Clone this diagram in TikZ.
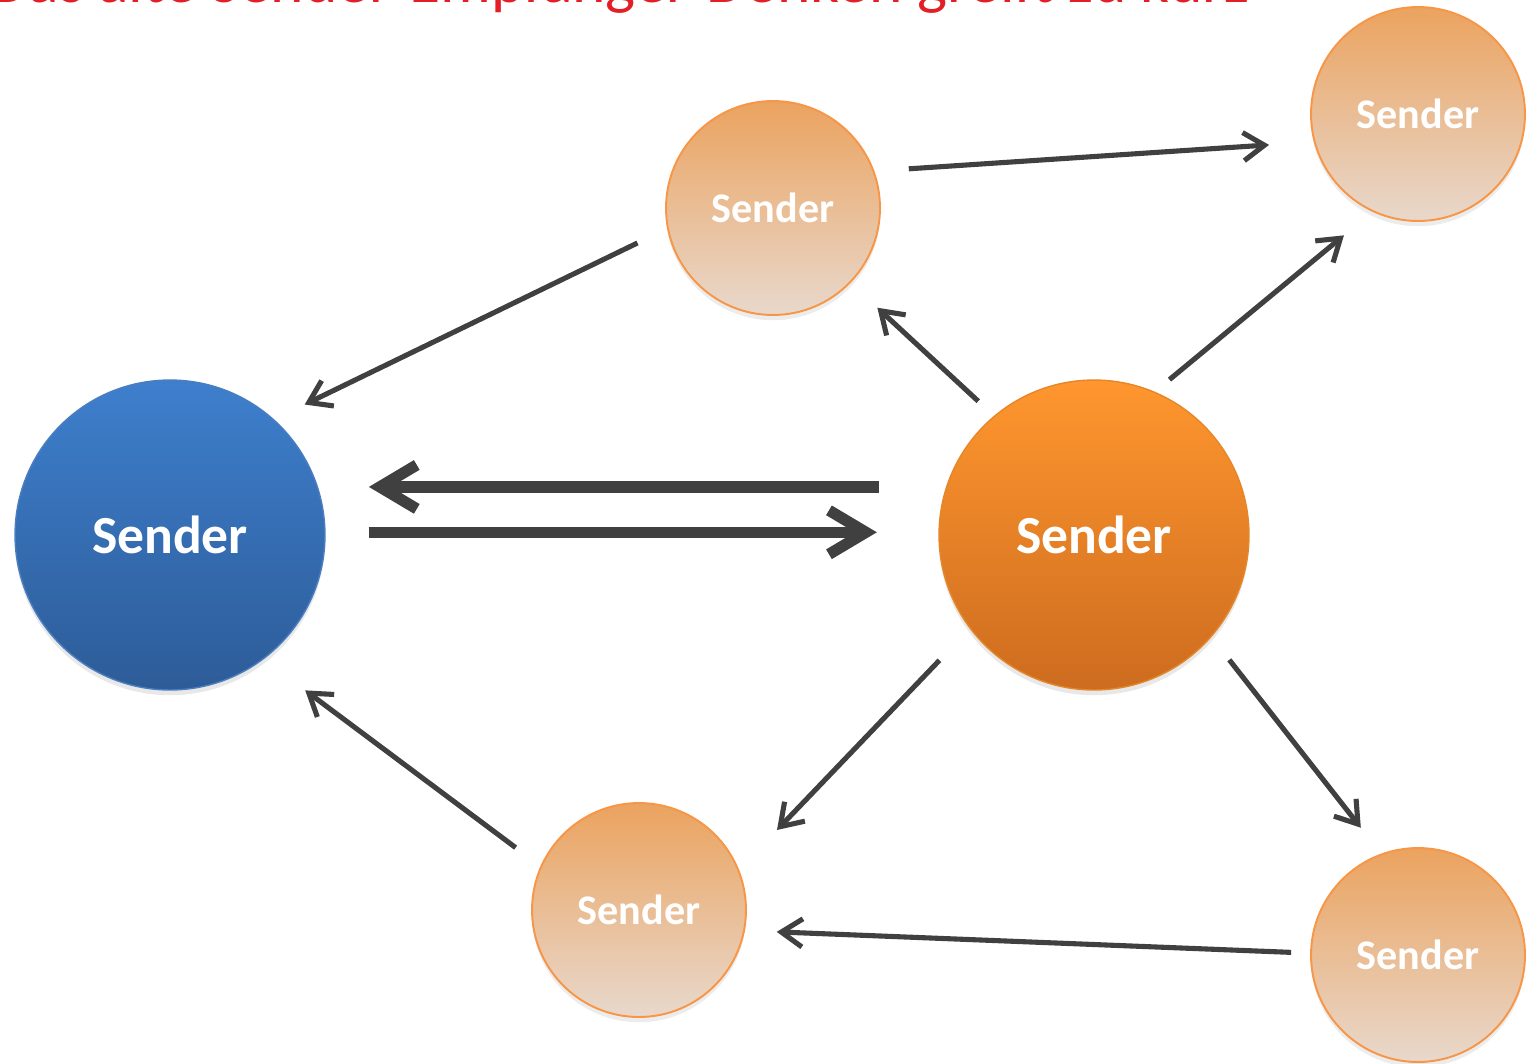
\documentclass[tikz,border=0pt]{standalone}
\usepackage{fontspec}
\setmainfont{Carlito}
\usetikzlibrary{arrows.meta,shadows}

\definecolor{titlered}{HTML}{E41E26}
\definecolor{arrgray}{HTML}{404040}
\definecolor{bluetop}{HTML}{3E7FCD}
\definecolor{bluebot}{HTML}{2D5C98}
\definecolor{blueline}{HTML}{4A7EC0}
\definecolor{orangetop}{HTML}{FF962E}
\definecolor{orangebot}{HTML}{CD6C1F}
\definecolor{paletop}{HTML}{EBA35F}
\definecolor{palebot}{HTML}{E8D8CC}
\definecolor{paleline}{HTML}{F79646}

\begin{document}
\begin{tikzpicture}[x=0.02cm, y=-0.02cm,
  bigsender/.style={circle, inner sep=0pt, minimum size=6.2cm, text=white,
    font=\fontsize{30.5}{36}\selectfont\bfseries,
    drop shadow={opacity=0.18, shadow xshift=0pt, shadow yshift=-3pt}},
  smallsender/.style={circle, inner sep=0pt, minimum size=4.28cm, text=white,
    draw=paleline, line width=1.1pt, top color=paletop, bottom color=palebot,
    font=\fontsize{24}{29}\selectfont\bfseries,
    drop shadow={opacity=0.15, shadow xshift=0pt, shadow yshift=-3pt}},
  msg/.style={draw=arrgray, line width=2.9pt, -{Straight Barb[length=12pt, width=16pt]}},
  bigmsg/.style={draw=arrgray, line width=6.4pt, -{Straight Barb[length=21pt, width=25pt]}}]

  \useasboundingbox (0,0) rectangle (1532,1063);

  \node[anchor=base east, text=titlered, font=\fontsize{36.2}{40}\selectfont] (title) at (1256,2)
    {Das alte Sender-Empfänger-Denken greift zu kurz};

  \node[bigsender, draw=blueline, line width=0.8pt, top color=bluetop, bottom color=bluebot] (blue) at (170,535) {Sender};
  \node[bigsender, draw=orangetop!90!black, line width=0.8pt, top color=orangetop, bottom color=orangebot] (orange) at (1094,535) {Sender};

  \node[smallsender] (top) at (773,208) {Sender};
  \node[smallsender] (topright) at (1418,114) {Sender};
  \node[smallsender] (bottom) at (639,910) {Sender};
  \node[smallsender] (bottomright) at (1418,955) {Sender};

  \draw[bigmsg, shorten <=38.3pt, shorten >=24.6pt] (orange.162) -- (orange.162 -| blue.east); %% orange->blue
  \draw[bigmsg, shorten <=24.4pt, shorten >=35pt] (blue.1.5) -- (blue.1.5 -| orange.west); %% blue->orange

  \draw[msg, shorten <=18.7pt, shorten >=19.3pt] (top.191.1) -- (blue.48.6);
  \draw[msg, shorten <=19.6pt, shorten >=25.5pt] (top.20.1) -- (topright.195.8);
  \draw[msg, shorten <=12.2pt, shorten >=20.7pt] (orange.130.8) -- (top.-44.4);
  \draw[msg, shorten <=10.8pt, shorten >=21pt] (orange.67.1) -- (topright.245.5);
  \draw[msg, shorten <=24.9pt, shorten >=31.2pt] (orange.217.5) -- (bottom.22.9);
  \draw[msg, shorten <=16.4pt, shorten >=18.7pt] (orange.-41.6) -- (bottomright.110.6);
  \draw[msg, shorten <=10.8pt, shorten >=18.1pt] (bottomright.179.9) -- (bottom.-11.7);
  \draw[msg, shorten <=17.6pt, shorten >=29.5pt] (bottom.156.1) -- (blue.-53.9);
\end{tikzpicture}
\end{document}
